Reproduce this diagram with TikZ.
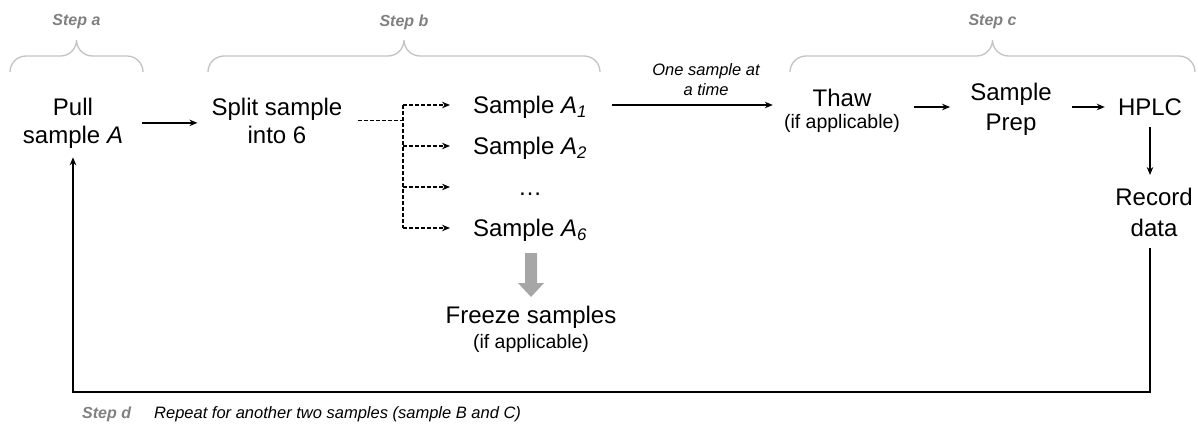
\documentclass[tikz,border=0pt]{standalone}
\usepackage{fontspec}
\setmainfont{Liberation Sans}
\usetikzlibrary{arrows.meta,positioning,calc}

\definecolor{stepgray}{HTML}{808080}
\definecolor{bracegray}{HTML}{C3C3C3}
\definecolor{blockgray}{HTML}{A6A6A6}
\newcommand{\smalltxt}{\fontsize{19.5}{22}\selectfont}

\tikzset{
  txt/.style={align=center, inner sep=0pt, font=\fontsize{24}{28}\selectfont},
  rowtxt/.style={txt, text height=17pt, text depth=0pt},
  note/.style={align=center, inner sep=0pt, font=\fontsize{16.5}{20}\selectfont\itshape},
  steplbl/.style={inner sep=0pt, text=stepgray, font=\fontsize{16}{18}\selectfont\bfseries\itshape},
  stepbrace/.style={draw=bracegray, line width=1.3pt},
  arr/.style={-{Stealth[length=8pt, width=6.5pt]}, line width=1.4pt},
  dashline/.style={line width=1.4pt, dash pattern=on 4pt off 2pt},
  dasharr/.style={arr, dash pattern=on 4pt off 2pt},
}

\begin{document}
\begin{tikzpicture}[x=1pt, y=-1pt]
\useasboundingbox (0,0) rectangle (1198,423);

% braces over the steps
\foreach \xa/\xb/\lbl in {10/143/a, 208/600/b, 790/1195/c}{
  \pgfmathsetmacro{\xm}{(\xa+\xb)/2}
  \draw[stepbrace] (\xa,72) to[out=90,in=180] ({\xa+16},56) -- ({\xm-16},56)
    to[out=0,in=-90] (\xm,40) to[out=-90,in=180] ({\xm+16},56) -- ({\xb-16},56)
    to[out=0,in=90] (\xb,72);
  \node[steplbl] (step\lbl) at (\xm,22) {Step \lbl};
}

% main row
\node[txt, anchor=north] (pull) at (73,97.5) {Pull\\sample \textit{A}};
\node[txt, anchor=north] (split) at (277,97.5) {Split sample\\into 6};
\node[rowtxt] (sA1) at (530,105) {Sample \textit{A}\textsubscript{\textit{1}}};
\node[rowtxt] (sA2) at (530,146) {Sample \textit{A}\textsubscript{\textit{2}}};
\node[rowtxt] (sdots) at (530,187) {\ldots};
\node[rowtxt] (sA6) at (530,228) {Sample \textit{A}\textsubscript{\textit{6}}};
\node[txt, anchor=north] (freeze) at (531,306) {Freeze samples\\[-3pt]{\smalltxt (if applicable)}};
\node[note] (once) at (706,80) {One sample at\\a time};
\node[txt, anchor=north] (thaw) at (842,89) {Thaw\\[-6pt]{\smalltxt (if applicable)}};
\node[txt, anchor=north] (prep) at (1011,83) {Sample\\[2pt]Prep};
\node[rowtxt] (hplc) at (1150,107) {HPLC};
\node[txt, anchor=north] (record) at (1154,188) {Record\\[3pt]data};

% step d
\node[steplbl, anchor=west] (stepd) at (82,414) {Step d};
\node[note, anchor=west] (repeat) at (154,414) {Repeat for another two samples (sample B and C)};

\coordinate (fork) at (403,0);
\coordinate (tips) at (450,0);
\coordinate (back) at (0,392);

% connectors
\draw[arr, shorten <=19pt, shorten >=14pt] (pull.east) -- (pull.east -| split.west);
\draw[dashline, shorten <=15pt] (split.east) -- (split.east -| fork);
\draw[dashline] (fork |- sA1) -- (fork |- sA6);
\foreach \s in {sA1,sA2,sdots,sA6}
  \draw[dasharr] (fork |- \s) -- (tips |- \s);
\draw[arr, shorten <=25pt, shorten >=11pt] (sA1.east) -- (sA1.east -| thaw.west);
\draw[arr, shorten <=14pt, shorten >=20pt] (thaw.east |- hplc) -- (prep.west |- hplc);
\draw[arr, shorten <=20pt, shorten >=13pt] (prep.east |- hplc) -- (hplc.west);
\draw[arr, shorten <=11pt, shorten >=13pt] (hplc.south) -- (hplc.south |- record.north);
\draw[arr, shorten <=11pt, shorten >=9pt] (record.south -| hplc) -- (hplc |- back) -- (pull.south |- back) -- (pull.south);

% freeze arrow
\fill[blockgray] (525,253) -- (537,253) -- (537,283) -- (544,283) -- (531,297) -- (518,283) -- (525,283) -- cycle;
\end{tikzpicture}
\end{document}
